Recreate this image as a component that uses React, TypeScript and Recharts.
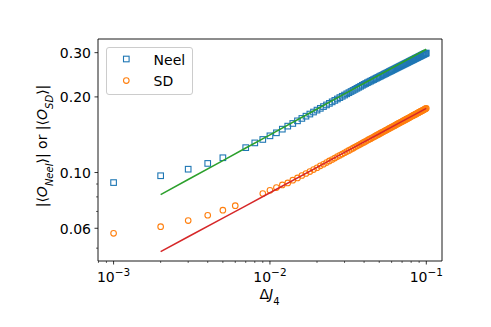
import React from 'react';
import { ComposedChart, XAxis, YAxis, Scatter, ReferenceArea, Legend } from 'recharts';

const FONT = '"DejaVu Sans", sans-serif';
const NEEL_COLOR = '#1f77b4';
const SD_COLOR = '#ff7f0e';
const NEEL_FIT_COLOR = '#2ca02c';
const SD_FIT_COLOR = '#d62728';

// ---- data ----
const neelX = [
  0.001, 0.002, 0.003, 0.004, 0.005, 0.007, 0.008, 0.009, 0.01,
  0.011, 0.012, 0.013, 0.014, 0.015, 0.016, 0.017, 0.018, 0.019, 0.02,
  0.021, 0.022, 0.023, 0.024, 0.025, 0.026, 0.027, 0.028, 0.029, 0.03,
  0.031, 0.032, 0.033, 0.034, 0.035, 0.036, 0.037, 0.038, 0.039, 0.04,
  0.041, 0.042, 0.043, 0.044, 0.045, 0.046, 0.047, 0.048, 0.049, 0.05,
  0.051, 0.052, 0.053, 0.054, 0.055, 0.056, 0.057, 0.058, 0.059, 0.06,
  0.061, 0.062, 0.063, 0.064, 0.065, 0.066, 0.067, 0.068, 0.069, 0.07,
  0.071, 0.072, 0.073, 0.074, 0.075, 0.076, 0.077, 0.078, 0.079, 0.08,
  0.081, 0.082, 0.083, 0.084, 0.085, 0.086, 0.087, 0.088, 0.089, 0.09,
  0.091, 0.092, 0.093, 0.094, 0.095, 0.096, 0.097, 0.098, 0.099, 0.1,
];
const neelY = [
  0.0912, 0.0971, 0.1031, 0.1087, 0.1145, 0.1256, 0.1312, 0.1354, 0.14,
  0.1439, 0.1488, 0.153, 0.1568, 0.1606, 0.1642, 0.1676, 0.1709, 0.1741, 0.1772,
  0.1801, 0.183, 0.1858, 0.1885, 0.1911, 0.1937, 0.1962, 0.1987, 0.2011, 0.2034,
  0.2057, 0.2079, 0.2101, 0.2122, 0.2143, 0.2164, 0.2184, 0.2204, 0.2224, 0.2243,
  0.2261, 0.2278, 0.2295, 0.2311, 0.2328, 0.2344, 0.236, 0.2375, 0.2391, 0.2406,
  0.2421, 0.2436, 0.245, 0.2465, 0.2479, 0.2493, 0.2507, 0.2521, 0.2534, 0.2548,
  0.2561, 0.2574, 0.2587, 0.26, 0.2613, 0.2625, 0.2638, 0.265, 0.2662, 0.2674,
  0.2686, 0.2698, 0.2709, 0.2721, 0.2732, 0.2744, 0.2755, 0.2766, 0.2777, 0.2788,
  0.2799, 0.281, 0.2821, 0.2831, 0.2842, 0.2852, 0.2863, 0.2873, 0.2883, 0.2893,
  0.2903, 0.2913, 0.2923, 0.2933, 0.2943, 0.2952, 0.2962, 0.2971, 0.2981, 0.299,
];

const sdX = [
  0.001, 0.002, 0.003, 0.004, 0.005, 0.006, 0.009, 0.01,
  0.011, 0.012, 0.013, 0.014, 0.015, 0.016, 0.017, 0.018, 0.019, 0.02,
  0.021, 0.022, 0.023, 0.024, 0.025, 0.026, 0.027, 0.028, 0.029, 0.03,
  0.031, 0.032, 0.033, 0.034, 0.035, 0.036, 0.037, 0.038, 0.039, 0.04,
  0.041, 0.042, 0.043, 0.044, 0.045, 0.046, 0.047, 0.048, 0.049, 0.05,
  0.051, 0.052, 0.053, 0.054, 0.055, 0.056, 0.057, 0.058, 0.059, 0.06,
  0.061, 0.062, 0.063, 0.064, 0.065, 0.066, 0.067, 0.068, 0.069, 0.07,
  0.071, 0.072, 0.073, 0.074, 0.075, 0.076, 0.077, 0.078, 0.079, 0.08,
  0.081, 0.082, 0.083, 0.084, 0.085, 0.086, 0.087, 0.088, 0.089, 0.09,
  0.091, 0.092, 0.093, 0.094, 0.095, 0.096, 0.097, 0.098, 0.099, 0.1,
];
const sdY = [
  0.0573, 0.0609, 0.0644, 0.0676, 0.0708, 0.0738, 0.0825, 0.085,
  0.0871, 0.0893, 0.0909, 0.0932, 0.0952, 0.0973, 0.0991, 0.1009, 0.1027, 0.1045,
  0.1063, 0.1079, 0.1096, 0.1112, 0.1127, 0.1142, 0.1157, 0.1171, 0.1185, 0.1199,
  0.1212, 0.1225, 0.1238, 0.125, 0.1263, 0.1275, 0.1287, 0.1298, 0.131, 0.1321,
  0.1332, 0.1343, 0.1354, 0.1364, 0.1375, 0.1385, 0.1395, 0.1405, 0.1415, 0.1425,
  0.1434, 0.1444, 0.1453, 0.1462, 0.1471, 0.148, 0.1489, 0.1498, 0.1507, 0.1515,
  0.1524, 0.1532, 0.154, 0.1549, 0.1557, 0.1565, 0.1573, 0.1581, 0.1588, 0.1596,
  0.1604, 0.1611, 0.1619, 0.1626, 0.1634, 0.1641, 0.1648, 0.1656, 0.1663, 0.167,
  0.1677, 0.1684, 0.1691, 0.1698, 0.1704, 0.1711, 0.1718, 0.1724, 0.1731, 0.1738,
  0.1744, 0.1751, 0.1757, 0.1763, 0.177, 0.1776, 0.1782, 0.1788, 0.1795, 0.1801,
];

const fitX = [0.002, 0.003, 0.005, 0.007, 0.01, 0.02, 0.03, 0.05, 0.07, 0.1];
const neelFitY = [0.0817, 0.0938, 0.1116, 0.1252, 0.1413, 0.179, 0.2055, 0.2445, 0.2742, 0.3096];
const sdFitY = [0.0484, 0.0555, 0.0658, 0.0737, 0.0831, 0.1049, 0.1202, 0.1427, 0.1597, 0.18];

const xMajorTicks = [0.001, 0.01, 0.1];
const xMinorTicks = [
  0.0008, 0.0009,
  0.002, 0.003, 0.004, 0.005, 0.006, 0.007, 0.008, 0.009,
  0.02, 0.03, 0.04, 0.05, 0.06, 0.07, 0.08, 0.09,
];
const yMajorTicks = [0.06, 0.1, 0.2, 0.3];
const yMinorTicks = [0.05, 0.07, 0.08, 0.09];

const X_DOMAIN = [0.000795, 0.126];
const Y_DOMAIN = [0.04445, 0.34];

const neelData = neelX.map((x, i) => ({ x, y: neelY[i] }));
const sdData = sdX.map((x, i) => ({ x, y: sdY[i] }));
const neelFit = fitX.map((x, i) => ({ x, y: neelFitY[i] }));
const sdFit = fitX.map((x, i) => ({ x, y: sdFitY[i] }));

const SquareMarker = (props: any) => {
  const { cx, cy } = props;
  if (cx == null || cy == null) return null;
  return <rect x={cx - 2.8} y={cy - 2.8} width={5.6} height={5.6} fill="none" stroke={NEEL_COLOR} strokeWidth={1.1} />;
};
const CircleMarker = (props: any) => {
  const { cx, cy } = props;
  if (cx == null || cy == null) return null;
  return <circle cx={cx} cy={cy} r={2.8} fill="none" stroke={SD_COLOR} strokeWidth={1.1} />;
};
const NoMarker = () => <g />;

const XTick = (props: any) => {
  const { x, y, payload } = props;
  const v = payload.value;
  const major = xMajorTicks.includes(v);
  const exp = Math.round(Math.log10(v));
  return (
    <g>
      <line x1={x} x2={x} y1={y} y2={y + (major ? 3.5 : 2)} stroke="#000" strokeWidth={major ? 0.8 : 0.6} />
      {major && (
        <text x={x} y={y + 20.5} textAnchor="middle" fontSize={14} fontFamily={FONT} fill="#000">
          10
          <tspan dy={-5.5} fontSize={10.5}>{'\u2212' + Math.abs(exp)}</tspan>
        </text>
      )}
    </g>
  );
};

const YTick = (props: any) => {
  const { x, y, payload } = props;
  const v = payload.value;
  const major = yMajorTicks.includes(v);
  return (
    <g>
      <line x1={x - (major ? 3.5 : 2)} x2={x} y1={y} y2={y} stroke="#000" strokeWidth={major ? 0.8 : 0.6} />
      {major && (
        <text x={x - 7} y={y + 5.5} textAnchor="end" fontSize={14} fontFamily={FONT} fill="#000">
          {v.toFixed(2)}
        </text>
      )}
    </g>
  );
};

const YLabel = () => (
  <text
    transform="rotate(-90)"
    x={-146}
    y={46.5}
    textAnchor="middle"
    fontSize={14}
    fontFamily={FONT}
    fill="#000"
  >
    |⟨<tspan fontStyle="italic">O</tspan>
    <tspan baselineShift="sub" fontSize={10} fontStyle="italic">Neel</tspan>⟩| or |⟨<tspan fontStyle="italic">O</tspan>
    <tspan baselineShift="sub" fontSize={10} fontStyle="italic">SD</tspan>⟩|
  </text>
);

const XLabel = () => (
  <text x={269.5} y={299} textAnchor="middle" fontSize={14} fontFamily={FONT} fill="#000">
    Δ<tspan fontStyle="italic">J</tspan>
    <tspan baselineShift="sub" fontSize={10}>4</tspan>
  </text>
);

const renderLegend = () => (
  <div
    style={{
      width: 87,
      height: 48,
      border: '1px solid #cccccc',
      borderRadius: 3,
      background: 'rgba(255,255,255,0.8)',
      boxSizing: 'border-box',
    }}
  >
    <svg width={85} height={46} style={{ display: 'block' }}>
      <rect x={16.5} y={8.2} width={5.6} height={5.6} fill="none" stroke={NEEL_COLOR} strokeWidth={1.1} />
      <circle cx={19.3} cy={32.6} r={2.8} fill="none" stroke={SD_COLOR} strokeWidth={1.1} />
      <text x={46.6} y={17.3} fontSize={14} fontFamily={FONT} fill="#000">Neel</text>
      <text x={46.6} y={38.3} fontSize={14} fontFamily={FONT} fill="#000">SD</text>
    </svg>
  </div>
);

export default function App() {
  return (
    <div style={{ position: 'absolute', left: 0, top: 0, width: 491, height: 327, background: '#fff', fontFamily: FONT }}>
      <ComposedChart width={491} height={327} margin={{ top: 39, right: 49, bottom: 36, left: 38 }}>
        <XAxis
          type="number"
          dataKey="x"
          scale="log"
          domain={X_DOMAIN}
          allowDataOverflow
          ticks={[...xMajorTicks, ...xMinorTicks]}
          interval={0}
          tick={<XTick />}
          tickLine={false}
          axisLine={false}
          tickSize={0}
          tickMargin={0}
          height={30}
          label={<XLabel />}
        />
        <YAxis
          type="number"
          dataKey="y"
          scale="log"
          domain={Y_DOMAIN}
          allowDataOverflow
          ticks={[...yMajorTicks, ...yMinorTicks]}
          interval={0}
          tick={<YTick />}
          tickLine={false}
          axisLine={false}
          tickSize={0}
          tickMargin={0}
          width={60}
          label={<YLabel />}
        />
        <Scatter name="Neel" data={neelData} dataKey="y" shape={<SquareMarker />} isAnimationActive={false} />
        <Scatter name="SD" data={sdData} dataKey="y" shape={<CircleMarker />} isAnimationActive={false} />
        <Scatter
          name="Neel fit"
          data={neelFit}
          dataKey="y"
          shape={<NoMarker />}
          line={{ stroke: NEEL_FIT_COLOR, strokeWidth: 1.5 }}
          lineType="joint"
          legendType="none"
          isAnimationActive={false}
        />
        <Scatter
          name="SD fit"
          data={sdFit}
          dataKey="y"
          shape={<NoMarker />}
          line={{ stroke: SD_FIT_COLOR, strokeWidth: 1.5 }}
          lineType="joint"
          legendType="none"
          isAnimationActive={false}
        />
        <ReferenceArea
          x1={X_DOMAIN[0]}
          x2={X_DOMAIN[1]}
          y1={Y_DOMAIN[0]}
          y2={Y_DOMAIN[1]}
          fill="none"
          stroke="#000"
          strokeWidth={0.9}
          ifOverflow="visible"
        />
        <Legend
          layout="vertical"
          verticalAlign="middle"
          align="center"
          content={renderLegend}
          wrapperStyle={{ position: 'absolute', left: 105.5, top: 46.5, width: 87, height: 48 }}
        />
      </ComposedChart>
    </div>
  );
}
